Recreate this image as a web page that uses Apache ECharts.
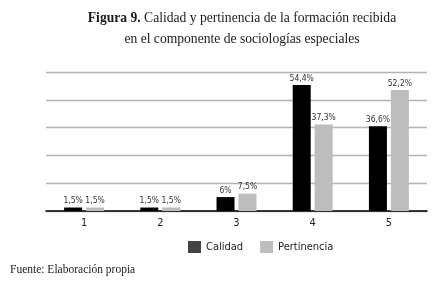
<!DOCTYPE html>
<html>
<head>
<meta charset="utf-8">
<script src="https://cdn.jsdelivr.net/npm/echarts@6/dist/echarts.min.js"></script>
<style>
  html, body { margin: 0; padding: 0; background: #fff; }
  #chart { width: 434px; height: 293px; }
</style>
</head>
<body>
<div id="chart"></div>
<script>
// datos de la figura 9
const categories = ["1", "2", "3", "4", "5"];
const calidad = [1.5, 1.5, 6, 54.4, 36.6];
const pertinencia = [1.5, 1.5, 7.5, 37.3, 52.2];
const seriesNames = ["Calidad", "Pertinencia"];

const labelFont = '"DejaVu Sans Condensed", Roboto, sans-serif';
const serifFont = '"Liberation Serif", "DejaVu Serif", serif';

// 1.5 -> "1,5%"
function pct(p) {
  return String(p.value).replace(".", ",") + "%";
}

const chart = echarts.init(document.getElementById("chart"));

chart.setOption({
  animation: false,
  backgroundColor: "#fff",
  title: {
    left: 237,
    textAlign: "center",
    top: 3,
    text: "{b|Figura 9.}{n| Calidad y pertinencia de la formación recibida}\n{n|en el componente de sociologías especiales}",
    textStyle: {
      fontWeight: "normal",
      rich: {
        b: { fontFamily: serifFont, fontWeight: "bold", fontSize: 13.6, color: "#1a1a1a", lineHeight: 21 },
        n: { fontFamily: serifFont, fontWeight: "normal", fontSize: 13.6, color: "#1a1a1a", lineHeight: 21 },
      },
    },
  },
  legend: {
    left: 183,
    top: 236,
    itemWidth: 13,
    itemHeight: 12,
    itemGap: 17,
    icon: "rect",
    textStyle: { fontFamily: labelFont, fontSize: 11, color: "#222" },
    data: [
      { name: seriesNames[0], itemStyle: { color: "#444" } },
      { name: seriesNames[1], itemStyle: { color: "#bdbdbd" } },
    ],
  },
  grid: { left: 46, right: 7, top: 72, bottom: 82 },
  xAxis: {
    type: "category",
    data: categories,
    axisLine: { lineStyle: { color: "#000", width: 1.5 } },
    axisTick: { show: false },
    axisLabel: { fontFamily: labelFont, fontSize: 11, color: "#222", margin: 7 },
  },
  yAxis: {
    type: "value",
    min: 0,
    max: 60,
    interval: 12,
    axisLine: { show: false },
    axisTick: { show: false },
    axisLabel: { show: false },
    splitLine: { lineStyle: { color: "#b3b3b3", width: 1.3 } },
  },
  series: [
    {
      name: seriesNames[0],
      type: "bar",
      data: calidad,
      barWidth: 18,
      barGap: "22%",
      itemStyle: { color: "#000" },
      label: {
        show: true,
        position: "top",
        distance: 2,
        fontFamily: labelFont,
        fontSize: 8.5,
        color: "#333",
        formatter: pct,
      },
    },
    {
      name: seriesNames[1],
      type: "bar",
      data: pertinencia,
      barWidth: 18,
      itemStyle: { color: "#bdbdbd" },
      label: {
        show: true,
        position: "top",
        distance: 2,
        fontFamily: labelFont,
        fontSize: 8.5,
        color: "#333",
        formatter: pct,
      },
    },
  ],
  graphic: [
    {
      type: "text",
      left: 10,
      top: 264,
      style: {
        text: "Fuente: Elaboración propia",
        font: '11.5px "Liberation Serif", "DejaVu Serif", serif',
        fill: "#1a1a1a",
      },
    },
  ],
});
</script>
</body>
</html>
